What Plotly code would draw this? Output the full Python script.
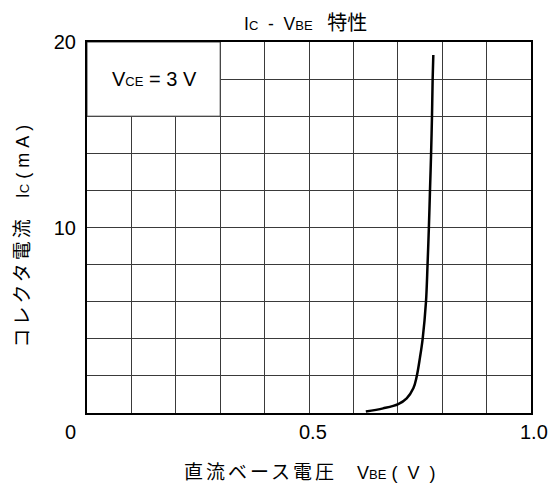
import plotly.graph_objects as go

# Curve data (VBE in V, IC in mA)
vbe = [0.628, 0.667, 0.701, 0.720, 0.735, 0.7425, 0.750, 0.756, 0.7635, 0.767,
       0.770, 0.7725, 0.775, 0.777, 0.7785, 0.780]
ic = [0.08, 0.25, 0.48, 0.79, 1.33, 1.96, 3.0, 4.0, 6.0, 8.0,
      10.0, 12.0, 14.0, 16.0, 18.0, 19.3]

x_gridvals = [0, 0.1, 0.2, 0.3, 0.4, 0.5, 0.6, 0.7, 0.8, 0.9, 1.0]
x_labelvals = [0, 0.5, 1.0]
x_labeltext = ["0", "0.5", "1.0"]
y_tickvals = [0, 2, 4, 6, 8, 10, 12, 14, 16, 18, 20]
y_ticktext = ["", "", "", "", "", "10", "", "", "", "", "20"]

FONT = "Liberation Sans, Arial, Noto Sans CJK JP, sans-serif"
GRID = "#3a3a3a"
SP = "\u00a0"

fig = go.Figure()
fig.add_trace(go.Scatter(x=vbe, y=ic, mode="lines",
                         line=dict(color="black", width=2.5, shape="spline"),
                         hoverinfo="skip", showlegend=False))

label_shift = {0: -16.5, 0.5: 4, 1.0: 3}
annotations = []
for v, t in zip(x_labelvals, x_labeltext):
    annotations.append(dict(text=t, xref="x", yref="paper", x=v, y=0, yshift=-19,
                            xshift=label_shift[v], xanchor="center", yanchor="middle",
                            showarrow=False, font=dict(size=20, family=FONT)))

annotations += [
    dict(text="V<span style='font-size:13px'>CE</span> = 3 V", xref="x", yref="y", x=0.153, y=18,
         showarrow=False, font=dict(size=20, family=FONT)),
    dict(text="I<span style='font-size:13px'>C</span>" + SP * 2 + "-" + SP * 2 +
              "V<span style='font-size:13px'>BE</span>" + SP * 3 +
              "<span style='font-size:20px'>特性</span>",
         xref="paper", yref="paper", x=0, xshift=242 - 87, y=1.0, yshift=19.5,
         xanchor="left", yanchor="middle",
         showarrow=False, font=dict(size=17.5, family=FONT)),
    dict(text="<span style='font-size:19px;letter-spacing:3px'>直流ベース電圧</span>" + SP * 4 +
              "V<span style='font-size:13px'>BE</span>" + SP + "(" + SP * 2 + "V" + SP * 2 + ")",
         xref="paper", yref="paper", x=0, xshift=182 - 87, y=0, yshift=-59.5,
         xanchor="left", yanchor="middle",
         showarrow=False, font=dict(size=18, family=FONT)),
    dict(text="<span style='font-size:19px;letter-spacing:3px'>コレクタ電流</span>　"
              "I<span style='font-size:13px'>C</span>" + SP + "(" + SP + "m" + SP + "A" + SP + ")",
         xref="paper", yref="paper", x=0, xshift=-65, y=0.5, yshift=-9, xanchor="center", yanchor="middle",
         textangle=-90, showarrow=False, font=dict(size=18, family=FONT)),
]

fig.update_layout(
    width=550, height=484,
    margin=dict(l=87, r=19, t=42, b=71),
    paper_bgcolor="white", plot_bgcolor="white",
    font=dict(family=FONT, color="black", size=16),
    showlegend=False,
    xaxis=dict(range=[0, 1.0], tickvals=x_gridvals, showticklabels=False,
               showgrid=True, gridcolor=GRID, gridwidth=1, zeroline=False,
               showline=True, linecolor="black", linewidth=2, mirror=True, ticks=""),
    yaxis=dict(range=[0, 20], tickvals=y_tickvals, ticktext=y_ticktext,
               showgrid=True, gridcolor=GRID, gridwidth=1, zeroline=False,
               showline=True, linecolor="black", linewidth=2, mirror=True,
               ticks="", ticklabelstandoff=5, tickfont=dict(size=20, family=FONT)),
    shapes=[dict(type="rect", xref="x", yref="y", x0=0, x1=0.3, y0=16, y1=20,
                 fillcolor="white", line=dict(color=GRID, width=1), layer="between")],
    annotations=annotations,
)

fig.write_html("out.html", config={"displayModeBar": False, "staticPlot": True},
               post_script="document.body.style.margin='0';document.body.style.overflow='hidden';")
